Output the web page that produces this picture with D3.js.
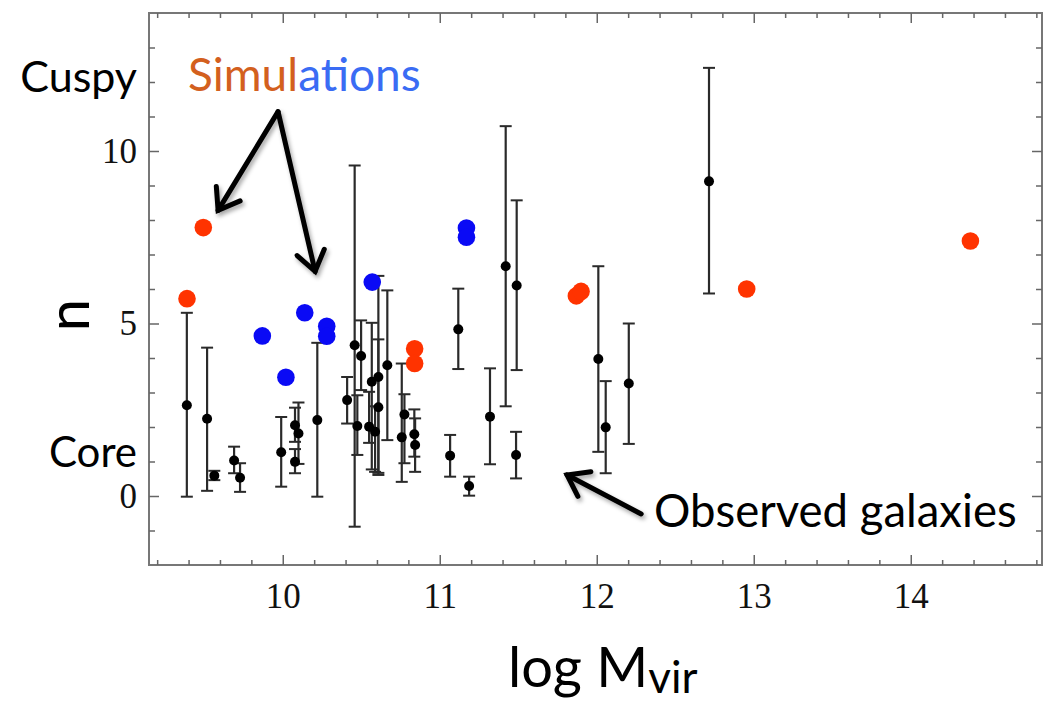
<!DOCTYPE html>
<html><head><meta charset="utf-8">
<script src="https://cdn.jsdelivr.net/npm/d3@7"></script>
<style>body{margin:0;background:#fff} svg{display:block}</style>
</head><body>
<svg id="chart" width="1043" height="701"></svg>
<script>
// ---- Observed galaxies: log Mvir, n, lower and upper error bounds ----
const obsX  = [9.389, 9.518, 9.564, 9.69, 9.728, 9.99, 10.078, 10.078, 10.10, 10.22,
               10.41, 10.458, 10.499, 10.475, 10.55, 10.567, 10.588, 10.609, 10.609, 10.666,
               10.758, 10.775, 10.838, 10.843, 11.066, 11.118, 11.187, 11.32, 11.42, 11.49,
               11.486, 12.01, 12.057, 12.204, 12.715];
const obsN  = [2.63, 2.24, 0.59, 1.03, 0.53, 1.27, 2.05, 0.99, 1.81, 2.20,
               2.78, 4.37, 4.06, 2.03, 2.01, 3.31, 1.86, 3.45, 2.57, 3.79,
               1.70, 2.36, 1.79, 1.48, 1.17, 4.83, 0.29, 2.30, 6.66, 6.10,
               1.19, 3.97, 1.99, 3.26, 9.12];
const obsLo = [-0.02, 0.15, 0.46, 0.66, 0.12, 0.27, 1.57, 0.66, 0.93, -0.02,
               2.10, -0.89, 3.07, 1.19, 1.54, 0.77, 0.70, 0.61, 0.67, 1.62,
               0.41, 0.95, 1.14, 0.70, 0.56, 3.68, 0.01, 0.92, 2.60, 3.65,
               0.51, 1.28, 0.66, 1.51, 5.87];
const obsHi = [5.31, 4.30, 0.73, 1.43, 0.95, 2.29, 2.56, 1.36, 2.71, 4.44,
               3.45, 9.58, 5.09, 2.92, 3.02, 5.02, 2.60, 6.38, 4.54, 5.96,
               3.84, 2.95, 2.51, 2.25, 1.77, 6.01, 0.56, 3.70, 10.72, 8.57,
               1.86, 6.66, 3.33, 5.00, 12.41];

// ---- Simulations ----
const simRedX  = [9.39, 9.494, 10.84, 10.84, 11.87, 11.90, 12.955, 14.38];
const simRedN  = [5.72, 7.78, 4.27, 3.84, 5.80, 5.93, 6.00, 7.39];
const simBlueX = [9.87, 10.02, 10.14, 10.28, 10.28, 10.57, 11.17, 11.17];
const simBlueN = [4.64, 3.44, 5.31, 4.92, 4.63, 6.20, 7.77, 7.50];

// ---- Axes ticks ----
const xMajor = [10, 11, 12, 13, 14];
const xMinor = d3.range(46, 75).map(i => i / 5).filter(v => !xMajor.includes(v));
const yMajor = [0, 5, 10];
const yMinor = d3.range(-1, 14).filter(v => !yMajor.includes(v));

// ---- Annotation arrows (data coordinates: tail -> tip) ----
const arrowTailX = [9.97, 9.97, 12.283];
const arrowTailN = [11.14, 11.14, -0.52];
const arrowTipX  = [9.588, 10.206, 11.811];
const arrowTipN  = [8.28, 6.51, 0.61];

const svg = d3.select('#chart');
const plot = {left: 149, right: 1042, top: 13, bottom: 565};
const x = d3.scaleLinear().domain([9.148, 14.836]).range([plot.left, plot.right]);
const y = d3.scaleLinear().domain([-2, 14]).range([plot.bottom, plot.top]);

const defs = svg.append('defs');
const f = defs.append('filter').attr('id', 'shadow').attr('x', '-20%').attr('y', '-20%').attr('width', '140%').attr('height', '140%');
f.append('feDropShadow').attr('dx', 2).attr('dy', 3).attr('stdDeviation', 2)
  .attr('flood-color', '#000').attr('flood-opacity', 0.35);

// frame
svg.append('rect').attr('x', plot.left).attr('y', plot.top)
  .attr('width', plot.right - plot.left).attr('height', plot.bottom - plot.top)
  .attr('fill', 'none').attr('stroke', '#777').attr('stroke-width', 2);

function styleAxis(g) {
  g.select('.domain').remove();
  g.selectAll('.tick line').attr('stroke', '#666').attr('stroke-width', 1.5);
  g.selectAll('.tick text').attr('font-family', '"Liberation Serif", serif')
    .attr('font-size', 35).attr('fill', '#111');
}
// bottom
svg.append('g').attr('transform', `translate(0,${plot.bottom})`)
  .call(d3.axisBottom(x).tickValues(xMajor).tickSize(-10).tickPadding(18).tickFormat(d3.format('d'))).call(styleAxis);
svg.append('g').attr('transform', `translate(0,${plot.bottom})`)
  .call(d3.axisBottom(x).tickValues(xMinor).tickSize(-5).tickFormat('')).call(styleAxis);
// top
svg.append('g').attr('transform', `translate(0,${plot.top})`)
  .call(d3.axisTop(x).tickValues(xMajor).tickSize(-10).tickFormat('')).call(styleAxis);
svg.append('g').attr('transform', `translate(0,${plot.top})`)
  .call(d3.axisTop(x).tickValues(xMinor).tickSize(-5).tickFormat('')).call(styleAxis);
// left
svg.append('g').attr('transform', `translate(${plot.left},0)`)
  .call(d3.axisLeft(y).tickValues(yMajor).tickSize(-10).tickPadding(12).tickFormat(d3.format('d'))).call(styleAxis);
svg.append('g').attr('transform', `translate(${plot.left},0)`)
  .call(d3.axisLeft(y).tickValues(yMinor).tickSize(-6).tickFormat('')).call(styleAxis);
// right
svg.append('g').attr('transform', `translate(${plot.right},0)`)
  .call(d3.axisRight(y).tickValues(yMajor).tickSize(-10).tickFormat('')).call(styleAxis);
svg.append('g').attr('transform', `translate(${plot.right},0)`)
  .call(d3.axisRight(y).tickValues(yMinor).tickSize(-6).tickFormat('')).call(styleAxis);

// observed error bars
const obs = obsX.map((v, i) => ({x: v, n: obsN[i], lo: obsLo[i], hi: obsHi[i]}));
const eb = svg.append('g').attr('stroke', '#2a2a2a').attr('fill', 'none');
eb.selectAll('line.v').data(obs).join('line').attr('class', 'v')
  .attr('x1', d => x(d.x)).attr('x2', d => x(d.x))
  .attr('y1', d => y(d.lo)).attr('y2', d => y(d.hi)).attr('stroke-width', 2.2);
eb.selectAll('line.ch').data(obs).join('line').attr('class', 'ch')
  .attr('x1', d => x(d.x) - 6).attr('x2', d => x(d.x) + 6)
  .attr('y1', d => y(d.hi)).attr('y2', d => y(d.hi)).attr('stroke-width', 2);
eb.selectAll('line.cl').data(obs).join('line').attr('class', 'cl')
  .attr('x1', d => x(d.x) - 6).attr('x2', d => x(d.x) + 6)
  .attr('y1', d => y(d.lo)).attr('y2', d => y(d.lo)).attr('stroke-width', 2);
svg.append('g').selectAll('circle').data(obs).join('circle')
  .attr('cx', d => x(d.x)).attr('cy', d => y(d.n)).attr('r', 5).attr('fill', '#000');

// simulations
svg.append('g').selectAll('circle').data(simBlueX.map((v, i) => [v, simBlueN[i]])).join('circle')
  .attr('cx', d => x(d[0])).attr('cy', d => y(d[1])).attr('r', 8.8).attr('fill', '#0a0af5');
svg.append('g').selectAll('circle').data(simRedX.map((v, i) => [v, simRedN[i]])).join('circle')
  .attr('cx', d => x(d[0])).attr('cy', d => y(d[1])).attr('r', 8.8).attr('fill', '#ff3300');

// arrows
const ag = svg.append('g').attr('filter', 'url(#shadow)');
arrowTailX.forEach((tx, i) => {
  const x0 = x(tx), y0 = y(arrowTailN[i]), x1 = x(arrowTipX[i]), y1 = y(arrowTipN[i]);
  const ang = Math.atan2(y0 - y1, x0 - x1), L = 24, a = 0.62;
  ag.append('line').attr('x1', x0).attr('y1', y0).attr('x2', x1).attr('y2', y1)
    .attr('stroke', '#000').attr('stroke-width', 5).attr('stroke-linecap', 'round');
  const p = d3.path();
  p.moveTo(x1 + L * Math.cos(ang + a), y1 + L * Math.sin(ang + a));
  p.lineTo(x1, y1);
  p.lineTo(x1 + L * Math.cos(ang - a), y1 + L * Math.sin(ang - a));
  ag.append('path').attr('d', p.toString()).attr('fill', 'none').attr('stroke', '#000')
    .attr('stroke-width', 5).attr('stroke-linejoin', 'miter').attr('stroke-linecap', 'round');
});

// text
const sans = 'Lato, "Open Sans", sans-serif';
svg.append('text').attr('x', 137).attr('y', 92).attr('text-anchor', 'end')
  .attr('font-family', sans).attr('font-size', 43).attr('fill', '#000').text('Cuspy');
svg.append('text').attr('x', 137).attr('y', 467).attr('text-anchor', 'end')
  .attr('font-family', sans).attr('font-size', 42).attr('fill', '#000').text('Core');
const sim = svg.append('text').attr('x', 188).attr('y', 91)
  .attr('font-family', sans).attr('font-size', 46);
sim.append('tspan').attr('fill', '#d3601e').text('Simul');
sim.append('tspan').attr('fill', '#3a6cf4').text('ations');
svg.append('text').attr('x', 654).attr('y', 527)
  .attr('font-family', sans).attr('font-size', 45.5).attr('fill', '#000').text('Observed galaxies');
svg.append('text').attr('transform', 'translate(89,315) rotate(-90)').attr('text-anchor', 'middle')
  .attr('font-family', sans).attr('font-size', 58).attr('fill', '#000').text('n');
const xl = svg.append('text').attr('x', 508).attr('y', 687)
  .attr('font-family', sans).attr('font-size', 56).attr('fill', '#000');
xl.append('tspan').text('log M');
xl.append('tspan').attr('font-size', 44).attr('dy', 6).text('vir');
</script>
</body></html>
